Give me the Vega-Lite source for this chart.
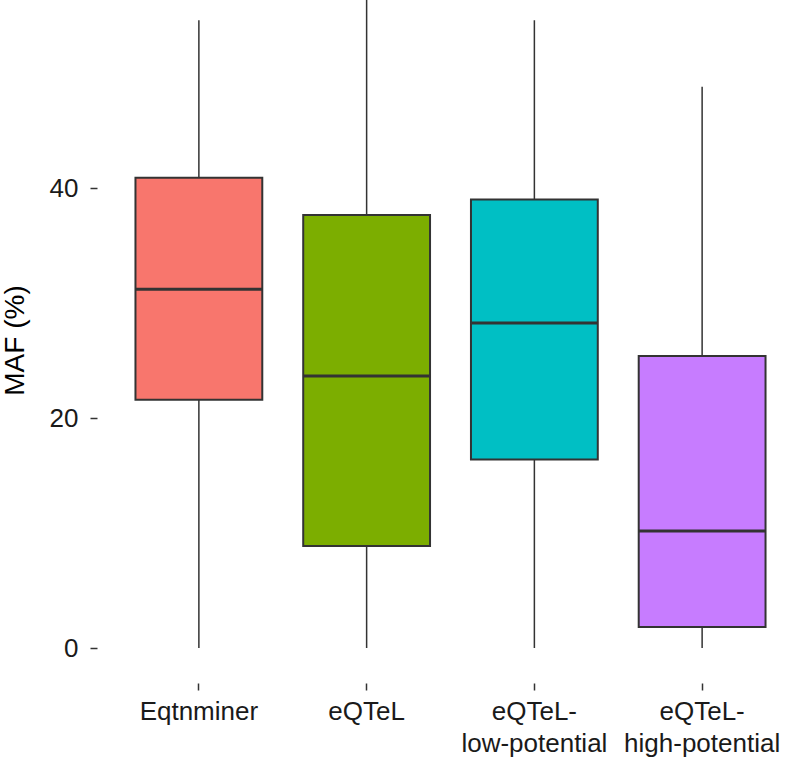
{
  "$schema": "https://vega.github.io/schema/vega-lite/v6.json",
  "autosize": "none",
  "width": 671,
  "height": 680,
  "padding": {"left": 115, "top": 0, "right": 0, "bottom": 79},
  "background": "white",
  "config": {"view": {"stroke": null}, "font": "Liberation Sans"},
  "data": {"values": [
    {"group": "Eqtnminer", "min": 0, "q1": 21.6, "median": 31.2, "q3": 40.9, "max": 54.6},
    {"group": "eQTeL", "min": 0, "q1": 8.87, "median": 23.65, "q3": 37.65, "max": 56.5},
    {"group": "eQTeL-low-potential", "min": 0, "q1": 16.4, "median": 28.26, "q3": 39.0, "max": 54.6},
    {"group": "eQTeL-high-potential", "min": 0, "q1": 1.83, "median": 10.17, "q3": 25.4, "max": 48.8}
  ]},
  "encoding": {
    "x": {
      "field": "group", "type": "nominal",
      "sort": ["Eqtnminer", "eQTeL", "eQTeL-low-potential", "eQTeL-high-potential"],
      "scale": {"paddingInner": 0.244, "paddingOuter": 0.122},
      "axis": {
        "title": null, "domain": false, "grid": false,
        "labelAngle": 0, "labelFontSize": 26, "labelColor": "#1a1a1a",
        "labelLineHeight": 32, "labelPadding": 8, "offset": 3,
        "tickSize": 7, "tickColor": "#333", "tickWidth": 1.5,
        "labelExpr": "indexof(datum.value, '-') > 0 ? [substring(datum.value, 0, indexof(datum.value, '-') + 1), substring(datum.value, indexof(datum.value, '-') + 1)] : datum.value"
      }
    }
  },
  "layer": [
    {
      "mark": {"type": "rule", "color": "#333", "strokeWidth": 1.5},
      "encoding": {
        "y": {"field": "min", "type": "quantitative",
          "scale": {"domain": [-2.78, 56.35], "nice": false, "zero": false},
          "axis": {
            "title": "MAF (%)", "titleFontSize": 28, "titleFontWeight": "normal", "titleColor": "#000",
            "titlePadding": 20,
            "values": [0, 20, 40], "domain": false, "grid": false,
            "labelFontSize": 26, "labelColor": "#1a1a1a", "labelPadding": 12,
            "offset": 18, "tickSize": 7, "tickColor": "#333", "tickWidth": 1.5
          }},
        "y2": {"field": "max"}
      }
    },
    {
      "mark": {"type": "bar", "stroke": "#333", "strokeWidth": 2},
      "encoding": {
        "y": {"field": "q1", "type": "quantitative"},
        "y2": {"field": "q3"},
        "color": {
          "field": "group", "type": "nominal", "legend": null,
          "sort": ["Eqtnminer", "eQTeL", "eQTeL-low-potential", "eQTeL-high-potential"],
          "scale": {"range": ["#F8766D", "#7CAE00", "#00BFC4", "#C77CFF"]}
        }
      }
    },
    {
      "mark": {"type": "tick", "color": "#333", "size": 127, "thickness": 3, "opacity": 1},
      "encoding": {
        "y": {"field": "median", "type": "quantitative"}
      }
    }
  ]
}
